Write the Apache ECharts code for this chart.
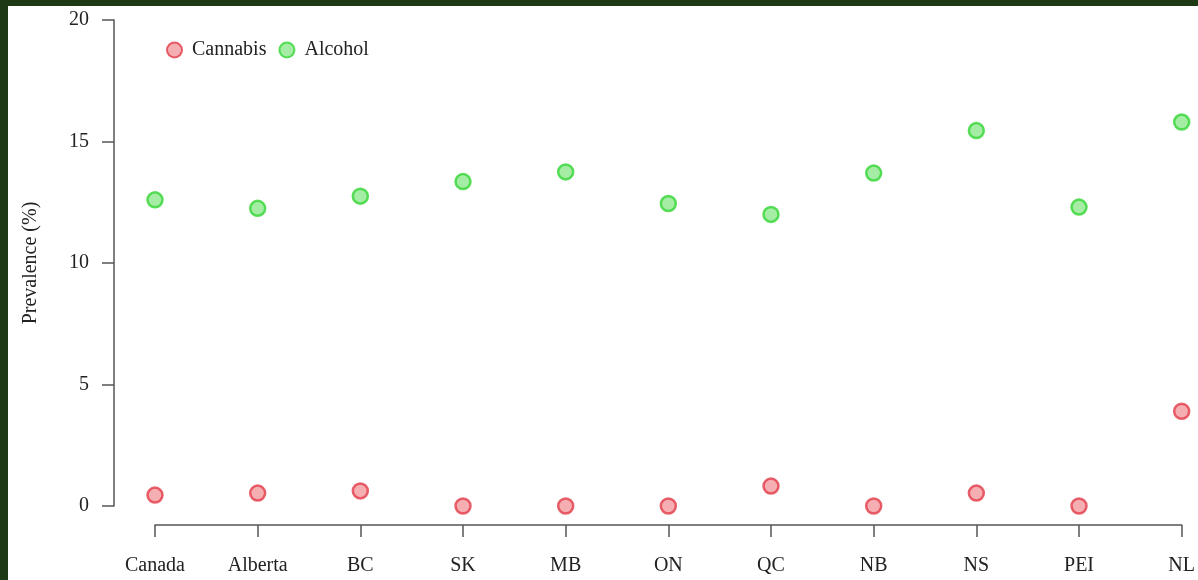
<!DOCTYPE html>
<html>
<head>
<meta charset="utf-8">
<script src="https://cdn.jsdelivr.net/npm/echarts@6/dist/echarts.min.js"></script>
<style>
    html, body { margin: 0; padding: 0; background: #1d3a14; }
    #chart {
        position: absolute;
        left: 8px; top: 6px;
        width: 1190px; height: 574px;
        background: #ffffff;
    }
</style>
</head>
<body>
<div id="chart"></div>
<script>
// 数据
const regions = ['Canada', 'Alberta', 'BC', 'SK', 'MB', 'ON', 'QC', 'NB', 'NS', 'PEI', 'NL'];
const cannabis = [0.45, 0.53, 0.62, 0, 0, 0, 0.82, 0, 0.53, 0, 3.9];
const alcohol = [12.6, 12.25, 12.75, 13.35, 13.75, 12.45, 12.0, 13.7, 15.45, 12.3, 15.8];
const yTicks = [0, 5, 10, 15, 20];

const fontFamily = '"Liberation Serif", "DejaVu Serif", serif';

const chart = echarts.init(document.getElementById('chart'));

chart.setOption({
    animation: false,
    textStyle: { fontFamily: fontFamily },
    legend: {
        data: ['Cannabis', 'Alcohol'],
        left: 153,
        top: 29,
        icon: 'circle',
        itemWidth: 15,
        itemHeight: 15,
        itemGap: 12,
        textStyle: { fontFamily: fontFamily, fontSize: 20, color: '#222', padding: [0, 0, 0, 5] }
    },
    grid: {
        left: 147,
        right: 16,
        top: 14,
        bottom: 74
    },
    xAxis: {
        type: 'category',
        data: regions,
        boundaryGap: false,
        offset: 19,
        axisLine: { onZero: false, lineStyle: { color: '#555', width: 1.5 } },
        axisTick: { alignWithLabel: true, length: 12, lineStyle: { color: '#555', width: 1.5 } },
        axisLabel: { margin: 31, fontSize: 20, color: '#222', fontFamily: fontFamily },
        splitLine: { show: false }
    },
    yAxis: {
        type: 'value',
        min: yTicks[0],
        max: yTicks[yTicks.length - 1],
        interval: 5,
        offset: 41,
        name: 'Prevalence (%)',
        nameLocation: 'middle',
        nameGap: 73,
        nameTextStyle: { fontSize: 20, color: '#222', fontFamily: fontFamily },
        axisLine: { show: true, lineStyle: { color: '#555', width: 1.5 } },
        axisTick: { show: true, length: 12, lineStyle: { color: '#555', width: 1.5 } },
        axisLabel: { margin: 25, fontSize: 20, color: '#222', fontFamily: fontFamily },
        splitLine: { show: false }
    },
    series: [
        {
            name: 'Cannabis',
            type: 'scatter',
            data: cannabis,
            symbol: 'circle',
            symbolSize: 15,
            itemStyle: { color: '#f39a9f', borderColor: '#e23c48', borderWidth: 2.5 }
        },
        {
            name: 'Alcohol',
            type: 'scatter',
            data: alcohol,
            symbol: 'circle',
            symbolSize: 15,
            itemStyle: { color: '#8ee88e', borderColor: '#34d634', borderWidth: 2.5 }
        }
    ]
});
</script>
</body>
</html>
